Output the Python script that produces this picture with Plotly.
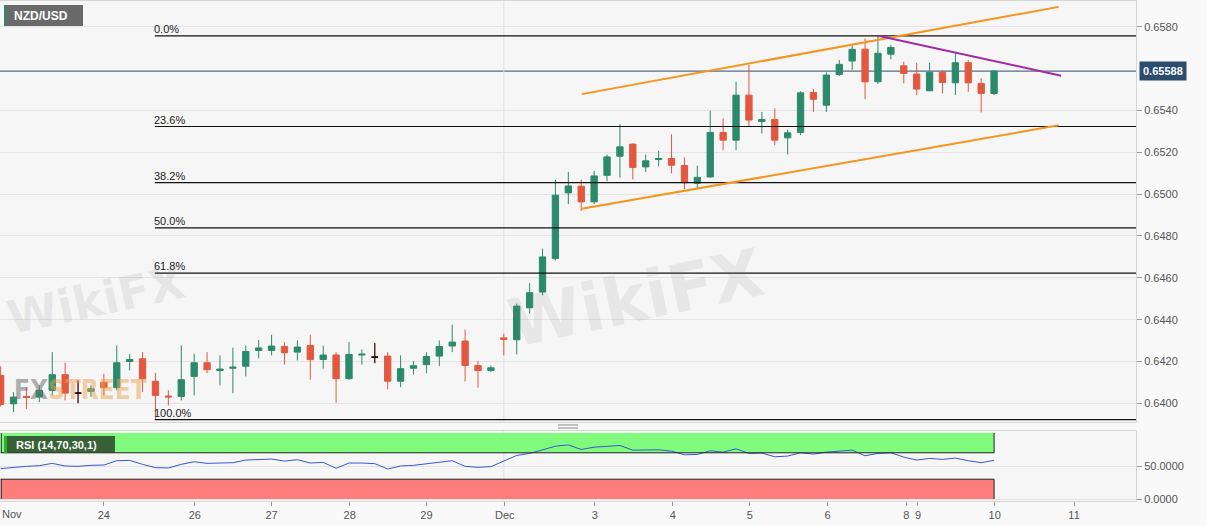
import plotly.graph_objects as go

# ---------------- data ----------------
candle_idx = list(range(78))
opens = [0.64134, 0.63998, 0.64033, 0.64030, 0.64062, 0.64137, 0.64049, 0.64057, 0.64101, 0.64075,
         0.64200, 0.64213, 0.64106, 0.64035, 0.64033, 0.64129, 0.64194, 0.64157, 0.64168, 0.64178,
         0.64253, 0.64253, 0.64272, 0.64245, 0.64277, 0.64210, 0.64231, 0.64118, 0.64231, 0.64221,
         0.64226, 0.64106, 0.64168, 0.64185, 0.64226, 0.64274, 0.64298, 0.64181, 0.64157, 0.64313,
         0.64304, 0.64457, 0.64532, 0.64692, 0.65006, 0.65038, 0.64963, 0.65090, 0.65181, 0.65239,
         0.65130, 0.65166, 0.65170, 0.65137, 0.65052, 0.65082, 0.65295, 0.65258, 0.65473, 0.65347,
         0.65357, 0.65269, 0.65295, 0.65486, 0.65425, 0.65572, 0.65636, 0.65693, 0.65537, 0.65669,
         0.65613, 0.65574, 0.65494, 0.65582, 0.65532, 0.65628, 0.65529, 0.65481]
highs = [0.64177, 0.64054, 0.64078, 0.64086, 0.64245, 0.64194, 0.64110, 0.64086, 0.64142, 0.64277,
         0.64237, 0.64245, 0.64146, 0.64062, 0.64277, 0.64237, 0.64245, 0.64229, 0.64266, 0.64277,
         0.64303, 0.64328, 0.64293, 0.64301, 0.64328, 0.64276, 0.64245, 0.64293, 0.64258, 0.64288,
         0.64245, 0.64229, 0.64202, 0.64245, 0.64301, 0.64376, 0.64352, 0.64202, 0.64181, 0.64333,
         0.64477, 0.64575, 0.64740, 0.65070, 0.65106, 0.65070, 0.65111, 0.65189, 0.65334, 0.65242,
         0.65189, 0.65207, 0.65286, 0.65175, 0.65136, 0.65398, 0.65362, 0.65537, 0.65617, 0.65393,
         0.65410, 0.65309, 0.65492, 0.65502, 0.65582, 0.65641, 0.65712, 0.65744, 0.65756, 0.65712,
         0.65633, 0.65628, 0.65628, 0.65593, 0.65673, 0.65641, 0.65553, 0.65593]
lows = [0.63985, 0.63958, 0.63974, 0.64006, 0.64038, 0.64014, 0.64001, 0.64030, 0.64038, 0.64062,
        0.64157, 0.64054, 0.63922, 0.63990, 0.64014, 0.64038, 0.64144, 0.64086, 0.64049, 0.64129,
        0.64215, 0.64229, 0.64186, 0.64205, 0.64113, 0.64166, 0.64003, 0.64113, 0.64185, 0.64192,
        0.64067, 0.64078, 0.64138, 0.64144, 0.64178, 0.64245, 0.64105, 0.64075, 0.64149, 0.64229,
        0.64234, 0.64429, 0.64516, 0.64684, 0.64952, 0.64920, 0.64952, 0.65062, 0.65079, 0.65070,
        0.65106, 0.65133, 0.65099, 0.65024, 0.65024, 0.65079, 0.65210, 0.65210, 0.65325, 0.65290,
        0.65234, 0.65189, 0.65282, 0.65393, 0.65393, 0.65564, 0.65593, 0.65454, 0.65526, 0.65645,
        0.65529, 0.65473, 0.65492, 0.65481, 0.65473, 0.65489, 0.65390, 0.65473]
closes = [0.63995, 0.64030, 0.64028, 0.64062, 0.64137, 0.64049, 0.64049, 0.64070, 0.64075, 0.64194,
          0.64210, 0.64118, 0.64038, 0.64031, 0.64113, 0.64194, 0.64161, 0.64164, 0.64173, 0.64248,
          0.64265, 0.64274, 0.64242, 0.64269, 0.64209, 0.64231, 0.64118, 0.64234, 0.64235, 0.64221,
          0.64106, 0.64166, 0.64180, 0.64224, 0.64272, 0.64293, 0.64181, 0.64157, 0.64170, 0.64306,
          0.64465, 0.64529, 0.64700, 0.64995, 0.65039, 0.64963, 0.65087, 0.65178, 0.65226, 0.65127,
          0.65159, 0.65170, 0.65138, 0.65054, 0.65080, 0.65295, 0.65258, 0.65473, 0.65354, 0.65357,
          0.65258, 0.65293, 0.65484, 0.65453, 0.65569, 0.65620, 0.65692, 0.65537, 0.65673, 0.65701,
          0.65577, 0.65502, 0.65582, 0.65534, 0.65628, 0.65532, 0.65481, 0.65588]
doji_idx = [6, 29]

rsi = [46, 48, 49.5, 50.5, 54, 50, 49.5, 51, 51.5, 58, 58.5, 52.5, 47.5, 47, 52.5, 56.5, 54, 54.5,
       55, 59, 60, 60.5, 57.5, 59.5, 54.5, 55.5, 46.5, 54.5, 54.5, 53.5, 45.5, 50, 51, 53.5, 56.5,
       58, 49.5, 48, 49, 58, 66, 69, 74, 80, 82, 75, 78.5, 80, 81, 74, 74.5, 74.5, 72.5, 67, 67.5,
       73, 71, 76, 69, 69.5, 64, 65, 70, 68, 71, 72.5, 74, 65.5, 69, 70, 63.5, 59, 61.5, 60, 62,
       58, 55, 58.5]

last_price = 0.65588
fib_high = 0.65756
fib_low = 0.63922
fib_start = 12
fib_ratios = [0.0, 0.236, 0.382, 0.5, 0.618, 1.0]
fib_labels = ["0.0%", "23.6%", "38.2%", "50.0%", "61.8%", "100.0%"]

upper_channel = [(45.04, 0.65478), (82.0, 0.65895)]
lower_channel = [(45.04, 0.64930), (82.0, 0.65329)]
resist_line = [(68.1, 0.65756), (82.2, 0.65566)]

price_ticks = [0.6400, 0.6420, 0.6440, 0.6460, 0.6480, 0.6500, 0.6520, 0.6540, 0.6580]
price_tick_text = ["0.6400", "0.6420", "0.6440", "0.6460", "0.6480", "0.6500", "0.6520", "0.6540", "0.6580"]
x_tick_pos = [8, 15.05, 21, 27.05, 33, 39.07, 46.05, 52.1, 58.06, 64.1, 70.2, 71.1, 77.05, 83.2]
x_tick_text = ["24", "26", "27", "28", "29", "Dec", "3", "4", "5", "6", "8", "9", "10", "11"]
rsi_ticks = [0, 50]
rsi_tick_text = ["0.0000", "50.0000"]
rsi_upper, rsi_lower = 70, 30

# ---------------- figure ----------------
X_MAX = 88.0
W, H = 1207, 526
ML, MR, MT, MB = 0, 71, 1, 25
PW, PH = W - ML - MR, H - MT - MB

def px_x(p):
    return (p - ML) / PW

def px_y(p):
    return (H - MB - p) / PH

GREEN = "#2b8a6c"
RED = "#e2583f"
FONT = "Liberation Sans, Arial, sans-serif"

fig = go.Figure()

fig.add_trace(go.Candlestick(
    x=candle_idx, open=opens, high=highs, low=lows, close=closes,
    increasing=dict(line=dict(color=GREEN, width=1), fillcolor=GREEN),
    decreasing=dict(line=dict(color=RED, width=1), fillcolor=RED),
    whiskerwidth=0, xaxis="x", yaxis="y", hoverinfo="skip", showlegend=False))

fig.add_trace(go.Candlestick(
    x=doji_idx,
    open=[opens[i] for i in doji_idx], high=[highs[i] for i in doji_idx],
    low=[lows[i] for i in doji_idx], close=[closes[i] for i in doji_idx],
    increasing=dict(line=dict(color="#111111", width=1), fillcolor="#111111"),
    decreasing=dict(line=dict(color="#111111", width=1), fillcolor="#111111"),
    whiskerwidth=0, xaxis="x", yaxis="y", hoverinfo="skip", showlegend=False))

fig.add_trace(go.Scatter(x=candle_idx, y=rsi, mode="lines",
                         line=dict(color="#3a56d4", width=1),
                         xaxis="x2", yaxis="y2", hoverinfo="skip", showlegend=False))

shapes = []
shapes.append(dict(type="line", xref="x domain", yref="y", x0=0, x1=1, y0=last_price, y1=last_price,
                   line=dict(color="#2b4b6f", width=1), layer="below"))
annotations = []
rng = fib_high - fib_low
for r, lab in zip(fib_ratios, fib_labels):
    lv = fib_high - r * rng
    shapes.append(dict(type="line", xref="x", yref="y", x0=fib_start - 0.05, x1=X_MAX, y0=lv, y1=lv,
                       line=dict(color="#111111", width=1.2)))
    annotations.append(dict(x=fib_start - 0.05, y=lv, xref="x", yref="y", text=lab, showarrow=False,
                            xanchor="left", yanchor="bottom", yshift=-1, xshift=-3,
                            font=dict(family=FONT, size=11, color="#222222")))
for seg, col in [(upper_channel, "#f7941d"), (lower_channel, "#f7941d"), (resist_line, "#a22aa6")]:
    shapes.append(dict(type="line", xref="x", yref="y", x0=seg[0][0], y0=seg[0][1], x1=seg[1][0], y1=seg[1][1],
                       line=dict(color=col, width=2)))
for ax_x, ax_y in [("x", "y domain"), ("x2", "y2 domain")]:
    shapes.append(dict(type="line", xref=ax_x, yref=ax_y, x0=39.0, x1=39.0, y0=0, y1=1,
                       line=dict(color="#e2e2e2", width=1), layer="below"))
last_i = candle_idx[-1]
shapes.append(dict(type="rect", xref="x2", yref="y2", x0=0, x1=last_i, y0=rsi_upper, y1=100,
                   fillcolor="#80fb7e", line=dict(width=0), layer="below"))
shapes.append(dict(type="rect", xref="x2", yref="y2", x0=0, x1=last_i, y0=0, y1=rsi_lower,
                   fillcolor="#fd7c7c", line=dict(width=0), layer="below"))
for yv in [rsi_upper, rsi_lower]:
    shapes.append(dict(type="line", xref="x2", yref="y2", x0=0, x1=last_i, y0=yv, y1=yv,
                       line=dict(color="#222222", width=1)))
for y0, y1 in [(rsi_upper, 100), (0, rsi_lower)]:
    for xv in [0.05, last_i]:
        shapes.append(dict(type="line", xref="x2", yref="y2", x0=xv, x1=xv, y0=y0, y1=y1,
                           line=dict(color="#222222", width=1)))
shapes.append(dict(type="rect", xref="paper", yref="paper", x0=px_x(4), x1=px_x(83), y0=px_y(26), y1=px_y(5),
                   fillcolor="#6a6a6a", line=dict(width=0)))
shapes.append(dict(type="rect", xref="paper", yref="paper", x0=px_x(4), x1=px_x(6), y0=px_y(26), y1=px_y(5),
                   fillcolor="#2b8a6c", line=dict(width=0)))
shapes.append(dict(type="rect", xref="paper", yref="paper", x0=px_x(4), x1=px_x(115), y0=px_y(453), y1=px_y(436),
                   fillcolor="rgba(45,75,45,0.88)", line=dict(width=0)))
shapes.append(dict(type="rect", xref="paper", yref="paper", x0=px_x(4), x1=px_x(7), y0=px_y(453), y1=px_y(436),
                   fillcolor="#27b327", line=dict(width=0)))
for yy in [425, 428]:
    shapes.append(dict(type="line", xref="paper", yref="paper", x0=px_x(558), x1=px_x(578), y0=px_y(yy), y1=px_y(yy),
                       line=dict(color="#888888", width=1)))

annotations.append(dict(x=px_x(12), y=px_y(15.5), xref="paper", yref="paper", text="<b>NZD/USD</b>",
                        showarrow=False, xanchor="left", yanchor="middle",
                        font=dict(family=FONT, size=12, color="white")))
annotations.append(dict(x=px_x(14), y=px_y(444.5), xref="paper", yref="paper", text="<b>RSI (14,70,30,1)</b>",
                        showarrow=False, xanchor="left", yanchor="middle",
                        font=dict(family=FONT, size=11, color="white")))
annotations.append(dict(x=1, y=last_price, xref="paper", yref="y", text="<b>0.65588</b>", showarrow=False,
                        xanchor="left", yanchor="middle", xshift=3, bgcolor="#2b4b6f", borderpad=3,
                        font=dict(family=FONT, size=11, color="white")))
annotations.append(dict(x=0, y=0, xref="paper", yref="paper", text="Nov", showarrow=False,
                        xanchor="left", yanchor="top", yshift=-5,
                        font=dict(family=FONT, size=11, color="#555555")))
for cx, cy, sz in [(96, 300, 46), (636, 298, 66)]:
    annotations.append(dict(x=px_x(cx), y=px_y(cy), xref="paper", yref="paper", text="<b>WikiFX</b>",
                            showarrow=False, textangle=-12, xanchor="center", yanchor="middle",
                            font=dict(family="DejaVu Sans", size=sz, color="rgba(120,120,120,0.12)")))
annotations.append(dict(x=px_x(12), y=px_y(390), xref="paper", yref="paper",
                        text="<b><span style='color:rgba(110,110,110,0.55)'>FX</span>"
                             "<span style='color:rgba(240,160,80,0.5)'>STREET</span></b>",
                        showarrow=False, xanchor="left", yanchor="middle",
                        font=dict(family="DejaVu Sans Condensed", size=26)))

axis_common = dict(showline=True, linecolor="#d6d6d6", mirror=True, zeroline=False)

fig.update_layout(
    width=W, height=H,
    margin=dict(l=ML, r=MR, t=MT, b=MB),
    paper_bgcolor="#f9f9f9", plot_bgcolor="#f6f6f6",
    font=dict(family=FONT, size=11, color="#555555"),
    showlegend=False,
    xaxis=dict(domain=[0, 1], range=[-0.05, X_MAX], showticklabels=False, showgrid=False,
               rangeslider=dict(visible=False), anchor="y", matches="x2", ticks="", **axis_common),
    yaxis=dict(domain=[px_y(422), 1], range=[0.63911, 0.65923], side="right", anchor="x",
               tickvals=price_ticks, ticktext=price_tick_text, ticks="outside", ticklen=5,
               tickcolor="#999999", showgrid=True, gridcolor="#e3e3e3", gridwidth=1,
               tickfont=dict(family=FONT, size=11, color="#555555"), **axis_common),
    xaxis2=dict(domain=[0, 1], range=[-0.05, X_MAX], anchor="y2", tickvals=x_tick_pos, ticktext=x_tick_text,
                ticks="outside", ticklen=4, tickcolor="#999999", showgrid=False,
                tickfont=dict(family=FONT, size=11, color="#555555"), **axis_common),
    yaxis2=dict(domain=[0, px_y(431)], range=[-3, 103], side="right", anchor="x2",
                tickvals=rsi_ticks, ticktext=rsi_tick_text, ticks="outside", ticklen=5, tickcolor="#999999",
                showgrid=True, gridcolor="#e3e3e3", tickfont=dict(family=FONT, size=11, color="#555555"),
                **axis_common),
    shapes=shapes, annotations=annotations,
    boxgap=0.3,
)

fig.write_html("out.html", config={"displayModeBar": False},
               post_script="document.body.style.margin='0';document.body.style.overflow='hidden';")
